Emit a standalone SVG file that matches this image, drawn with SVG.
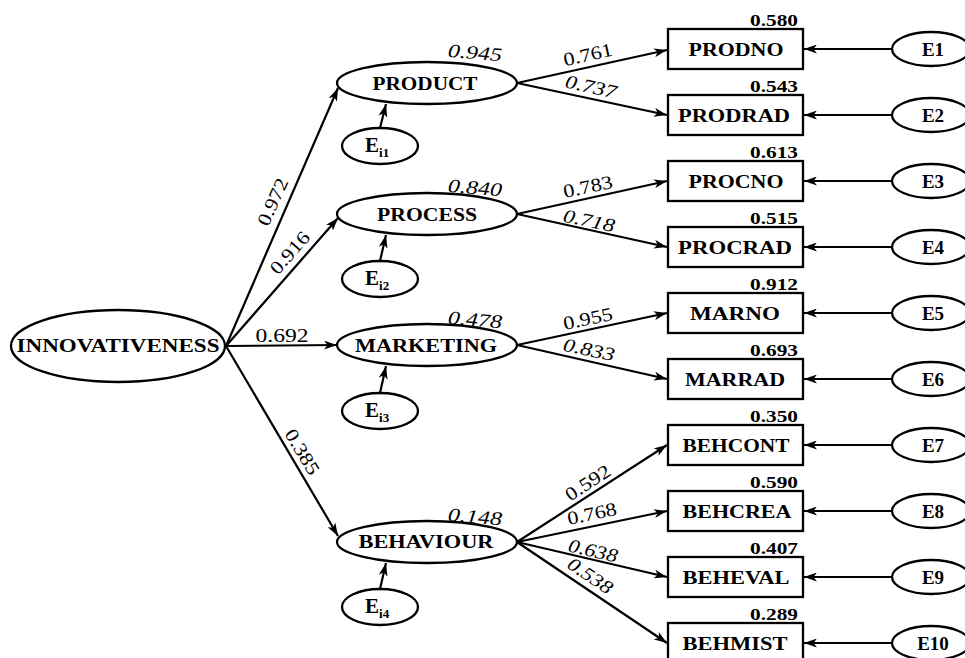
<svg xmlns="http://www.w3.org/2000/svg" width="965" height="658" viewBox="0 0 965 658">
<defs>
<marker id="ah" viewBox="0 0 13 9" refX="13" refY="4.5" markerWidth="13" markerHeight="9" orient="auto" markerUnits="userSpaceOnUse"><path d="M0,0 L13,4.5 L0,9 L3.5,4.5 z" fill="#000"/></marker>
<style>
.n ellipse, .n rect {fill:#fff; stroke:#000; stroke-width:2.3}
text {font-family:"Liberation Serif","Times New Roman",serif; fill:#000}
.lbl {font-size:19px; font-weight:bold; text-anchor:middle}
.val {font-size:17px; font-weight:bold; text-anchor:end}
.coef {font-size:19px; text-anchor:middle}
.it {font-style:italic}
.c line {stroke:#000; stroke-width:2.2; marker-end:url(#ah)}
</style>
</defs>
<rect width="965" height="658" fill="#fff"/>

<g id="innovativeness" class="n"><ellipse cx="118" cy="346" rx="107" ry="36"/><text class="lbl" x="118" y="352" font-size="20" textLength="203" lengthAdjust="spacingAndGlyphs">INNOVATIVENESS</text></g>

<g id="product" class="n"><ellipse cx="427" cy="83" rx="90" ry="21"/><text class="lbl" x="425" y="90" textLength="105" lengthAdjust="spacingAndGlyphs">PRODUCT</text></g>
<g id="process" class="n"><ellipse cx="427" cy="214" rx="90" ry="21"/><text class="lbl" x="427" y="221" textLength="100" lengthAdjust="spacingAndGlyphs">PROCESS</text></g>
<g id="marketing" class="n"><ellipse cx="427" cy="345" rx="90" ry="21"/><text class="lbl" x="426" y="352" textLength="142" lengthAdjust="spacingAndGlyphs">MARKETING</text></g>
<g id="behaviour" class="n"><ellipse cx="427" cy="542" rx="90" ry="21"/><text class="lbl" x="426" y="548" textLength="135" lengthAdjust="spacingAndGlyphs">BEHAVIOUR</text></g>

<g id="ei1" class="n"><ellipse cx="380" cy="146" rx="38" ry="18"/><text x="365" y="152" font-size="21" font-weight="bold">E<tspan font-size="13" dy="5">i1</tspan></text></g>
<g id="ei2" class="n"><ellipse cx="380" cy="279" rx="38" ry="18"/><text x="365" y="285" font-size="21" font-weight="bold">E<tspan font-size="13" dy="5">i2</tspan></text></g>
<g id="ei3" class="n"><ellipse cx="380" cy="411" rx="38" ry="18"/><text x="365" y="417" font-size="21" font-weight="bold">E<tspan font-size="13" dy="5">i3</tspan></text></g>
<g id="ei4" class="n"><ellipse cx="380" cy="607" rx="38" ry="18"/><text x="365" y="613" font-size="21" font-weight="bold">E<tspan font-size="13" dy="5">i4</tspan></text></g>

<g id="prodno" class="n"><rect x="668" y="29" width="135" height="40"/><text class="lbl" x="736" y="56" textLength="95" lengthAdjust="spacingAndGlyphs">PRODNO</text><text class="val" x="798" y="26" textLength="48" lengthAdjust="spacingAndGlyphs">0.580</text></g>
<g id="prodrad" class="n"><rect x="668" y="95" width="135" height="40"/><text class="lbl" x="734" y="122" textLength="112" lengthAdjust="spacingAndGlyphs">PRODRAD</text><text class="val" x="798" y="92" textLength="48" lengthAdjust="spacingAndGlyphs">0.543</text></g>
<g id="procno" class="n"><rect x="668" y="161" width="135" height="40"/><text class="lbl" x="736" y="188" textLength="95" lengthAdjust="spacingAndGlyphs">PROCNO</text><text class="val" x="798" y="158" textLength="48" lengthAdjust="spacingAndGlyphs">0.613</text></g>
<g id="procrad" class="n"><rect x="668" y="227" width="135" height="40"/><text class="lbl" x="735" y="254" textLength="114" lengthAdjust="spacingAndGlyphs">PROCRAD</text><text class="val" x="798" y="224" textLength="48" lengthAdjust="spacingAndGlyphs">0.515</text></g>
<g id="marno" class="n"><rect x="668" y="293" width="135" height="40"/><text class="lbl" x="735" y="320" textLength="90" lengthAdjust="spacingAndGlyphs">MARNO</text><text class="val" x="798" y="290" textLength="48" lengthAdjust="spacingAndGlyphs">0.912</text></g>
<g id="marrad" class="n"><rect x="668" y="359" width="135" height="40"/><text class="lbl" x="735" y="386" textLength="100" lengthAdjust="spacingAndGlyphs">MARRAD</text><text class="val" x="798" y="356" textLength="48" lengthAdjust="spacingAndGlyphs">0.693</text></g>
<g id="behcont" class="n"><rect x="668" y="425" width="135" height="40"/><text class="lbl" x="736" y="452" textLength="107" lengthAdjust="spacingAndGlyphs">BEHCONT</text><text class="val" x="798" y="422" textLength="48" lengthAdjust="spacingAndGlyphs">0.350</text></g>
<g id="behcrea" class="n"><rect x="668" y="491" width="135" height="40"/><text class="lbl" x="737" y="518" textLength="109" lengthAdjust="spacingAndGlyphs">BEHCREA</text><text class="val" x="798" y="488" textLength="48" lengthAdjust="spacingAndGlyphs">0.590</text></g>
<g id="beheval" class="n"><rect x="668" y="557" width="135" height="40"/><text class="lbl" x="736" y="584" textLength="107" lengthAdjust="spacingAndGlyphs">BEHEVAL</text><text class="val" x="798" y="554" textLength="48" lengthAdjust="spacingAndGlyphs">0.407</text></g>
<g id="behmist" class="n"><rect x="668" y="623" width="135" height="40"/><text class="lbl" x="735" y="650" textLength="105" lengthAdjust="spacingAndGlyphs">BEHMIST</text><text class="val" x="798" y="620" textLength="48" lengthAdjust="spacingAndGlyphs">0.289</text></g>

<g id="e1" class="n"><ellipse cx="931" cy="49" rx="39" ry="17"/><text class="lbl" x="933" y="56" font-size="20">E1</text></g>
<g id="e2" class="n"><ellipse cx="931" cy="115" rx="39" ry="17"/><text class="lbl" x="933" y="122" font-size="20">E2</text></g>
<g id="e3" class="n"><ellipse cx="931" cy="181" rx="39" ry="17"/><text class="lbl" x="933" y="188" font-size="20">E3</text></g>
<g id="e4" class="n"><ellipse cx="931" cy="247" rx="39" ry="17"/><text class="lbl" x="933" y="254" font-size="20">E4</text></g>
<g id="e5" class="n"><ellipse cx="931" cy="313" rx="39" ry="17"/><text class="lbl" x="933" y="320" font-size="20">E5</text></g>
<g id="e6" class="n"><ellipse cx="931" cy="379" rx="39" ry="17"/><text class="lbl" x="933" y="386" font-size="20">E6</text></g>
<g id="e7" class="n"><ellipse cx="931" cy="445" rx="39" ry="17"/><text class="lbl" x="933" y="452" font-size="20">E7</text></g>
<g id="e8" class="n"><ellipse cx="931" cy="511" rx="39" ry="17"/><text class="lbl" x="933" y="518" font-size="20">E8</text></g>
<g id="e9" class="n"><ellipse cx="931" cy="577" rx="39" ry="17"/><text class="lbl" x="933" y="584" font-size="20">E9</text></g>
<g id="e10" class="n"><ellipse cx="931" cy="643" rx="39" ry="17"/><text class="lbl" x="933" y="650" font-size="20">E10</text></g>

<g id="connectors" class="c">
<line x1="226" y1="346" x2="338" y2="88"/>
<line x1="226" y1="346" x2="338" y2="218"/>
<line x1="226" y1="346" x2="337" y2="345"/>
<line x1="226" y1="346" x2="338" y2="536"/>
<line x1="380" y1="128" x2="386" y2="104"/>
<line x1="380" y1="261" x2="386" y2="235"/>
<line x1="380" y1="393" x2="386" y2="366"/>
<line x1="380" y1="589" x2="386" y2="563"/>
<line x1="517" y1="83" x2="667" y2="50"/>
<line x1="517" y1="83" x2="667" y2="115"/>
<line x1="517" y1="214" x2="667" y2="181"/>
<line x1="517" y1="214" x2="667" y2="247"/>
<line x1="517" y1="345" x2="667" y2="313"/>
<line x1="517" y1="345" x2="667" y2="379"/>
<line x1="517" y1="542" x2="667" y2="445"/>
<line x1="517" y1="542" x2="667" y2="511"/>
<line x1="517" y1="542" x2="667" y2="577"/>
<line x1="517" y1="542" x2="667" y2="643"/>
<line x1="892" y1="49" x2="804" y2="49"/>
<line x1="892" y1="115" x2="804" y2="115"/>
<line x1="892" y1="181" x2="804" y2="181"/>
<line x1="892" y1="247" x2="804" y2="247"/>
<line x1="892" y1="313" x2="804" y2="313"/>
<line x1="892" y1="379" x2="804" y2="379"/>
<line x1="892" y1="445" x2="804" y2="445"/>
<line x1="892" y1="511" x2="804" y2="511"/>
<line x1="892" y1="577" x2="804" y2="577"/>
<line x1="892" y1="643" x2="804" y2="643"/>
</g>

<g id="coefficients">
<text class="coef" transform="translate(273,202) rotate(-66)" y="6" textLength="50" lengthAdjust="spacingAndGlyphs">0.972</text>
<text class="coef" transform="translate(290,253) rotate(-48.6)" y="6" textLength="50" lengthAdjust="spacingAndGlyphs">0.916</text>
<text class="coef" x="282" y="342" textLength="53" lengthAdjust="spacingAndGlyphs">0.692</text>
<text class="coef" transform="translate(302,452) rotate(59)" y="6" textLength="50" lengthAdjust="spacingAndGlyphs">0.385</text>
<text class="coef it" transform="translate(475,53) rotate(5)" y="6" textLength="54" lengthAdjust="spacingAndGlyphs">0.945</text>
<text class="coef it" transform="translate(475,188) rotate(5)" y="6" textLength="54" lengthAdjust="spacingAndGlyphs">0.840</text>
<text class="coef it" transform="translate(475,320) rotate(5)" y="6" textLength="54" lengthAdjust="spacingAndGlyphs">0.478</text>
<text class="coef it" transform="translate(475,517) rotate(5)" y="6" textLength="54" lengthAdjust="spacingAndGlyphs">0.148</text>
<text class="coef" transform="translate(588,55) rotate(-12.4)" y="6" textLength="50" lengthAdjust="spacingAndGlyphs">0.761</text>
<text class="coef it" transform="translate(591,87) rotate(12.4)" y="6" textLength="52" lengthAdjust="spacingAndGlyphs">0.737</text>
<text class="coef" transform="translate(588,187) rotate(-12)" y="6" textLength="50" lengthAdjust="spacingAndGlyphs">0.783</text>
<text class="coef it" transform="translate(589,221) rotate(12)" y="6" textLength="52" lengthAdjust="spacingAndGlyphs">0.718</text>
<text class="coef" transform="translate(588,319) rotate(-12)" y="6" textLength="50" lengthAdjust="spacingAndGlyphs">0.955</text>
<text class="coef it" transform="translate(589,350) rotate(12)" y="6" textLength="52" lengthAdjust="spacingAndGlyphs">0.833</text>
<text class="coef" transform="translate(588,483) rotate(-33)" y="6" textLength="50" lengthAdjust="spacingAndGlyphs">0.592</text>
<text class="coef" transform="translate(592,514) rotate(-11.6)" y="6" textLength="50" lengthAdjust="spacingAndGlyphs">0.768</text>
<text class="coef it" transform="translate(593,551) rotate(13)" y="6" textLength="50" lengthAdjust="spacingAndGlyphs">0.638</text>
<text class="coef it" transform="translate(590,576) rotate(34)" y="6" textLength="50" lengthAdjust="spacingAndGlyphs">0.538</text>
</g>
</svg>
